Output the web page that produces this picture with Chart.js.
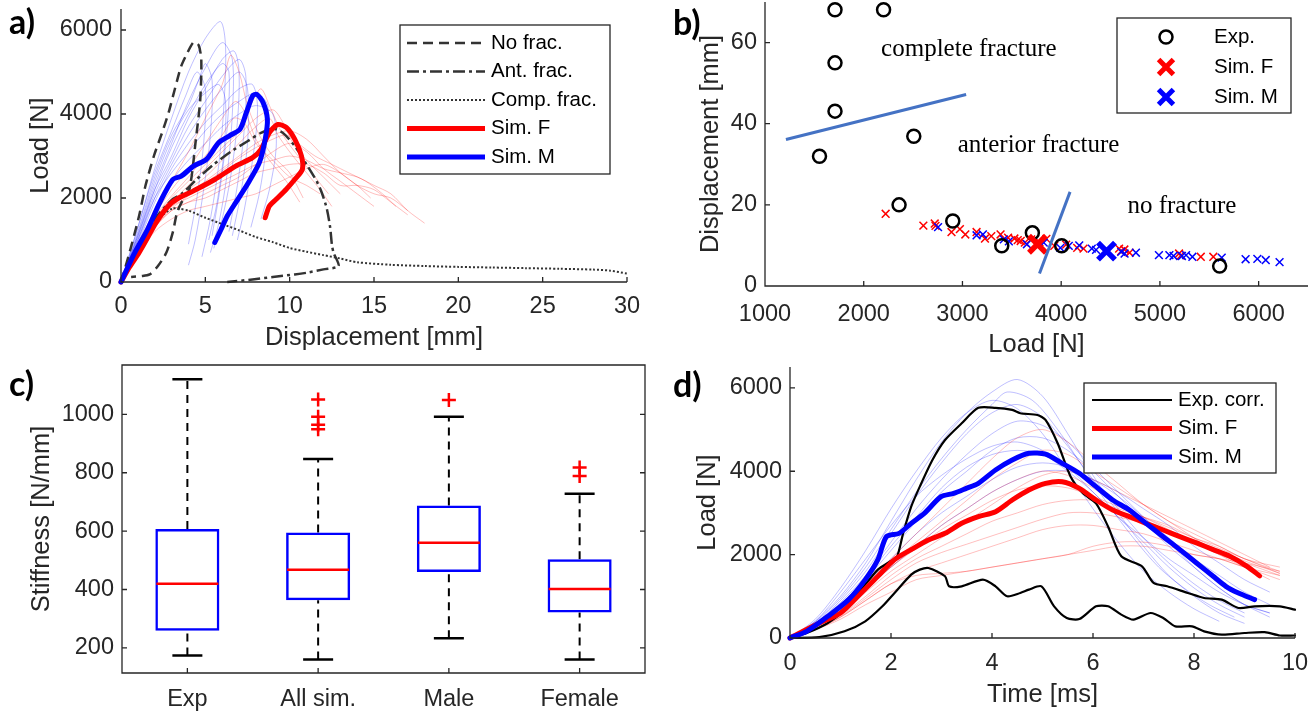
<!DOCTYPE html>
<html>
<head>
<meta charset="utf-8">
<script src="https://cdn.jsdelivr.net/npm/chart.js@4/dist/chart.umd.min.js"></script>
<style>
  body { margin: 0; background: #fff; }
  #fig { position: relative; width: 1316px; height: 712px; overflow: hidden; background: #fff; }
  #fig canvas { position: absolute; }
  .tag { position: absolute; font: bold 34px Lato, 'Open Sans', sans-serif; color: #000; line-height: 34px; }
</style>
</head>
<body>
<div id="fig">
  <canvas id="pa" width="658" height="356" style="left:0;top:0"></canvas>
  <canvas id="pb" width="658" height="362" style="left:658px;top:0"></canvas>
  <canvas id="pc" width="658" height="356" style="left:0;top:356px"></canvas>
  <canvas id="pd" width="658" height="356" style="left:658px;top:356px"></canvas>
  <div class="tag" style="left:9px;top:4px">a)</div>
  <div class="tag" style="left:673px;top:5px">b)</div>
  <div class="tag" style="left:9px;top:366px">c)</div>
  <div class="tag" style="left:673px;top:367px">d)</div>
</div>
<script>
// ---- a) load vs displacement ----
const noFracDisp = [0, 0.45, 1.07, 1.45, 1.95, 2.44, 2.82, 3.19, 3.57, 3.94, 4.31, 4.6, 4.76, 4.7, 4.44, 4.06, 3.6, 3.32, 3.07, 2.69, 2.19, 1.7, 1.2, 0.6];
const noFracLoad = [0, 620, 1570, 2290, 3000, 3560, 4030, 4590, 5140, 5460, 5710, 5640, 5300, 4350, 3400, 2210, 1900, 1650, 1180, 700, 380, 180, 140, 120];
const antFracDisp = [0, 1, 2, 3, 3.6, 4.5, 5.5, 6.5, 7.5, 8.3, 9.05, 9.6, 10.3, 11.0, 11.6, 11.9, 12.2, 12.4, 12.5, 12.6, 12.9, 12.0, 11.0, 10.3, 9.0, 7.8, 6.3];
const antFracLoad = [0, 850, 1500, 1950, 2100, 2450, 2800, 3100, 3350, 3550, 3650, 3550, 3240, 2800, 2400, 2130, 1750, 1300, 900, 700, 380, 300, 220, 180, 120, 60, 0];
const compFracDisp = [0, 0.5, 1, 1.5, 2, 2.5, 3.05, 3.5, 4, 5, 6, 7, 8, 9, 10, 11, 12, 13, 14, 16, 18, 20, 22, 24, 26, 28, 29, 30];
const compFracLoad = [0, 400, 750, 1050, 1350, 1600, 1750, 1740, 1700, 1530, 1380, 1230, 1070, 950, 810, 720, 640, 560, 470, 410, 380, 360, 345, 330, 315, 295, 270, 200];
const simFDispA = [0, 0.5, 1.07, 1.5, 2.07, 2.8, 3.3, 4.3, 5.56, 6.8, 7.8, 8.3, 8.8, 9.3, 9.8, 10.3, 10.7, 10.75, 10.3, 9.8, 9.2, 8.8, 8.55];
const simFLoadA = [0, 350, 700, 1000, 1410, 1810, 1970, 2170, 2440, 2760, 2960, 3160, 3560, 3750, 3680, 3400, 3000, 2680, 2440, 2210, 1970, 1810, 1530];
const simMDispA = [0, 0.4, 0.82, 1.57, 2.3, 3.07, 3.57, 4.3, 5.06, 5.8, 6.43, 7.06, 7.43, 7.8, 8.05, 8.43, 8.68, 8.55, 8.2, 7.56, 6.8, 6.3, 5.93, 5.56];
const simMLoadA = [0, 350, 700, 1250, 1890, 2440, 2520, 2760, 2920, 3320, 3480, 3640, 4030, 4430, 4470, 4270, 3870, 3400, 2840, 2370, 1890, 1570, 1250, 940];
// individual male / female runs, [displacement, load]
const maleRunsA = [
  [[0,0],[1,1300],[2,2700],[3,3900],[4,5000],[5,5800],[5.9,6200],[6.2,5600],[6.1,4200],[5.8,2800],[5.3,1500],[4.8,600]],
  [[0,0],[1,1100],[2,2300],[3,3300],[4,4300],[5,5100],[6,5700],[6.6,5300],[6.6,4000],[6.3,2600],[5.8,1400],[5.3,700]],
  [[0,0],[1,1000],[2,2100],[3,2900],[4,3700],[5,4300],[6,4900],[7,5300],[7.4,4900],[7.3,3600],[6.9,2300],[6.4,1200]],
  [[0,0],[1,900],[2,1900],[3,2700],[4,3300],[5,3800],[6,4200],[7,4600],[7.8,4700],[8.1,4100],[7.8,2900],[7.3,1700],[6.9,1000]],
  [[0,0],[1,1200],[2,2500],[3,3500],[4,4200],[4.6,4800],[5,5200],[5.4,4800],[5.3,3500],[4.9,2200],[4.4,1000],[4.0,400]],
  [[0,0],[1,1000],[2,2000],[3,2600],[4,3100],[5,3600],[6,4000],[7,4300],[8,4500],[8.7,4200],[8.6,3200],[8.2,2100],[7.7,1300]],
  [[0,0],[1,1100],[2,2200],[3,3000],[4,3900],[5,4600],[6,5300],[6.7,5500],[7,5000],[6.9,3800],[6.5,2500],[6,1500],[5.5,800]],
  [[0,0],[1,800],[2,1700],[3,2400],[4,2900],[5,3300],[6,3700],[7,4000],[8,4200],[9,4000],[9.2,3200],[8.8,2200],[8.3,1500]],
  [[0,0],[1,1300],[2,2600],[3,3600],[3.8,4400],[4.5,5000],[5,4600],[4.9,3300],[4.5,2000],[4.0,900]],
  [[0,0],[1,950],[2,2000],[3,2800],[4,3500],[5,4100],[6,4600],[7,5000],[7.5,4600],[7.5,3300],[7.1,2100],[6.6,1100]],
  [[0,0],[1,1150],[2,2400],[3,3400],[4,4100],[5,4500],[5.8,4700],[6.2,4300],[6.1,3100],[5.7,1900],[5.2,1000]],
  [[0,0],[1,1050],[2,2200],[3,3200],[4,4000],[5,4700],[6,5200],[6.4,5000],[6.3,3700],[5.9,2300],[5.4,1100]]
];
const femaleRunsA = [
  [[0,0],[1,700],[2,1300],[3,1700],[4,1900],[5,2100],[6,2300],[7,2500],[8,2800],[9,3100],[10,3300],[11,3100],[12,2700],[13,2400],[14,2100],[15,1800]],
  [[0,0],[1,800],[2,1500],[3,1900],[4,2300],[5,2700],[6,3100],[7,3500],[8,3900],[9,4100],[9.6,3800],[10.2,3300],[11,2900],[12,2500],[13,2100]],
  [[0,0],[1,750],[2,1400],[3,1800],[4,2000],[5,2200],[6,2400],[7,2600],[8,2800],[9,2900],[10,3000],[11,2900],[12,2700],[13,2600],[14,2500],[15,2300],[16,2100],[17,1700],[18,1400]],
  [[0,0],[1,900],[2,1700],[3,2400],[4,3100],[5,3900],[6,4700],[6.5,5400],[7,5000],[7.5,4200],[8.2,3500],[9,3000],[10,2600],[10.8,2000]],
  [[0,0],[1,700],[2,1200],[3,1500],[4,1700],[5,1800],[6,1900],[7,2000],[8,2100],[9,2300],[10,2500],[11,2700],[12,2800],[13,2600],[14,2300],[15,2100],[16,2000],[17,1700]],
  [[0,0],[1,800],[2,1500],[3,2000],[4,2400],[5,2800],[6,3200],[7,3600],[7.8,4300],[8.3,4600],[8.8,4200],[9.6,3500],[10.5,3000],[11.5,2500],[12.3,2100]],
  [[0,0],[1,750],[2,1400],[3,1800],[4,2100],[5,2400],[6,2700],[7,3000],[8,3300],[9,3500],[10,3600],[11,3400],[12,3000],[13,2600],[14,2300],[14.8,2000]],
  [[0,0],[1,850],[2,1600],[3,2200],[4,2700],[5,3300],[6,3900],[6.8,4300],[7.4,4000],[8,3400],[8.8,2900],[9.8,2400],[10.6,1900]],
  [[0,0],[1,700],[2,1300],[3,1700],[4,1900],[5,2000],[6,2200],[7,2400],[8,2600],[9,2700],[10,2800],[11,2800],[12,2600],[13,2300],[14,2300],[15,2200],[16,1900],[17,1600]],
  [[0,0],[1,800],[2,1450],[3,1850],[4,2200],[5,2500],[6,2900],[7,3300],[8,3700],[8.8,3900],[9.3,3500],[10,3100],[11,2600],[11.8,2200],[12.5,1800]],
  [[0,0],[1,750],[2,1350],[3,1750],[4,2050],[5,2350],[6,2650],[7,2950],[8,3200],[9,3400],[9.8,3500],[10.5,3300],[11.5,3000],[12.5,2800],[13.5,2600],[14.5,2400],[15.5,2100],[16.3,1800]],
  [[0,0],[1,850],[2,1550],[3,2050],[4,2500],[5,3000],[6,3500],[6.7,3900],[7.3,3800],[8,3300],[9,2900],[10,2500],[11,2300],[11.8,2100]]
];

// ---- b) displacement vs load at peak ----
const expLoad = [1709, 2201, 1709, 1709, 1552, 2507, 2358, 2902, 3398, 3708, 4005, 5605];
const expDisp = [68.1, 68.1, 55.0, 43.1, 32.0, 36.9, 20.0, 16.0, 9.9, 13.1, 9.9, 4.9];
const simFLoadB = [2222, 2604, 2719, 2727, 2889, 2974, 3029, 3143, 3228, 3292, 3386, 3462, 3526, 3590, 3632, 3696, 3930, 4162, 4226, 4587, 4608, 4693, 5194, 5414, 5541, 3560, 3780, 3850, 4050, 5210, 4640];
const simFDispB = [17.8, 14.9, 15.4, 14.8, 13.3, 14.0, 12.7, 13.3, 11.7, 12.3, 12.7, 11.9, 11.7, 11.1, 10.7, 11.5, 9.9, 9.4, 9.2, 9.2, 8.6, 8.2, 8.0, 7.2, 7.2, 11.3, 10.8, 11.6, 10.2, 7.5, 9.0];
const simMLoadB = [2753, 3143, 3207, 3419, 3470, 3653, 3823, 3992, 4077, 4183, 4310, 4353, 4608, 4642, 4757, 4990, 5096, 5138, 5223, 5265, 5329, 5626, 5868, 5987, 6072, 6212];
const simMDispB = [14.5, 12.5, 12.7, 11.5, 11.0, 10.3, 10.7, 9.4, 9.9, 10.0, 9.2, 8.9, 8.4, 8.0, 8.2, 7.6, 7.6, 7.4, 7.4, 7.6, 7.2, 7.0, 6.6, 6.7, 6.4, 5.9];
const meanLoad = [3760, 4459];   // F, M
const meanDisp = [10.3, 8.6];
const borderLoad = [[1212, 3037], [3780, 4090]];
const borderDisp = [[36.1, 47.2], [3.1, 23.2]];
const zoneText = ['complete fracture', 'anterior fracture', 'no fracture'];
const zoneLoad = [2176, 2952, 4671];
const zoneDisp = [58.3, 34.7, 19.5];

// ---- c) stiffness box plots ----
const groups = ['Exp', 'All sim.', 'Male', 'Female'];
const stiffLo = [174, 160, 233, 160];
const stiffQ1 = [259, 363, 460, 321];
const stiffMed = [420, 468, 560, 402];
const stiffQ3 = [607, 595, 688, 504];
const stiffHi = [1120, 847, 992, 728];
const outlierGroup = ['All sim.', 'All sim.', 'All sim.', 'All sim.', 'Male', 'Female', 'Female'];
const outlierStiff = [1051, 992, 964, 949, 1049, 818, 789];

// ---- d) load vs time ----
const expHiTime = [0, 0.33, 0.75, 1.08, 1.41, 1.74, 1.99, 2.12, 2.24, 2.4, 2.57, 2.82, 3.07, 3.4, 3.73, 4.07, 4.4, 4.56, 4.9, 5.06, 5.3, 5.56, 5.8, 6.06, 6.3, 6.56, 6.97, 7.2, 7.47, 7.88, 8.2, 8.55, 8.88, 9.2, 9.7, 10];
const expHiLoad = [0, 120, 360, 680, 1160, 1640, 1840, 1950, 2510, 3150, 3630, 4270, 4750, 5150, 5520, 5520, 5470, 5390, 5350, 5230, 4670, 3860, 3470, 3230, 2670, 1960, 1720, 1320, 1240, 1080, 960, 920, 720, 760, 760, 680];
const expLoTime = [0, 0.58, 1.08, 1.49, 1.83, 2.07, 2.4, 2.57, 2.74, 3.07, 3.15, 3.4, 3.82, 4.07, 4.3, 4.56, 4.73, 4.98, 5.23, 5.48, 5.73, 6.06, 6.3, 6.56, 6.8, 7.14, 7.39, 7.63, 7.96, 8.2, 8.55, 9.0, 9.4, 9.7, 10];
const expLoLoad = [0, 20, 160, 400, 760, 1080, 1520, 1640, 1680, 1480, 1240, 1240, 1400, 1240, 1000, 1080, 1160, 1240, 760, 480, 455, 760, 760, 560, 440, 600, 480, 280, 280, 160, 80, 120, 140, 60, 60];
const simFTime = [0, 0.58, 1.0, 1.41, 1.74, 2.07, 2.4, 2.74, 3.07, 3.4, 3.73, 4.07, 4.4, 4.73, 5.06, 5.39, 5.73, 6.06, 6.39, 6.72, 7.05, 7.39, 7.72, 8.05, 8.38, 8.71, 9.05, 9.3];
const simFLoadD = [0, 360, 600, 1080, 1480, 1880, 2120, 2350, 2510, 2750, 2910, 3030, 3310, 3550, 3710, 3750, 3590, 3310, 3070, 2910, 2750, 2590, 2430, 2280, 2120, 1960, 1720, 1490];
const simMTime = [0, 0.33, 0.75, 1.16, 1.49, 1.74, 1.91, 2.16, 2.4, 2.66, 2.99, 3.24, 3.49, 3.73, 4.07, 4.4, 4.73, 5.06, 5.39, 5.73, 6.06, 6.39, 6.72, 7.05, 7.39, 7.72, 8.05, 8.38, 8.63, 8.88, 9.2];
const simMLoadD = [0, 160, 520, 920, 1400, 1880, 2430, 2510, 2750, 2990, 3390, 3470, 3590, 3710, 4030, 4270, 4430, 4410, 4190, 3950, 3630, 3310, 3070, 2750, 2430, 2120, 1800, 1480, 1240, 1080, 920];
// individual runs, [time, load]
const maleRunsD = [
  [[0,0],[0.5,400],[1,1000],[1.5,1800],[2,2800],[2.5,3800],[3,4700],[3.5,5400],[4,5900],[4.5,6200],[5,5800],[5.5,4900],[6,3900],[6.5,3000],[7,2200],[7.5,1500],[8,1000],[8.5,600],[9,350]],
  [[0,0],[0.5,350],[1,900],[1.5,1600],[2,2500],[2.5,3400],[3,4200],[3.5,4900],[4,5400],[4.5,5600],[5,5300],[5.5,4600],[6,3800],[6.5,3100],[7,2400],[7.5,1800],[8,1300],[8.5,900],[9,600]],
  [[0,0],[0.5,300],[1,800],[1.5,1400],[2,2100],[2.5,2800],[3,3500],[3.5,4000],[4,4500],[4.5,4800],[5,4800],[5.5,4500],[6,4000],[6.5,3400],[7,2800],[7.5,2200],[8,1700],[8.5,1200],[9,800],[9.5,500]],
  [[0,0],[0.5,400],[1,1100],[1.5,1900],[2,2700],[2.5,3400],[3,3900],[3.5,4300],[4,4600],[4.5,4700],[5,4500],[5.5,4100],[6,3500],[6.5,2900],[7,2300],[7.5,1700],[8,1200],[8.5,800],[9,500]],
  [[0,0],[0.5,300],[1,700],[1.5,1300],[2,1900],[2.5,2500],[3,3000],[3.5,3400],[4,3800],[4.5,4100],[5,4200],[5.5,4100],[6,3800],[6.5,3400],[7,2900],[7.5,2400],[8,1900],[8.5,1500],[9,1100],[9.5,800]],
  [[0,0],[0.5,450],[1,1200],[1.5,2100],[2,3100],[2.5,4000],[3,4800],[3.5,5400],[4,5700],[4.5,5500],[5,4900],[5.5,4000],[6,3100],[6.5,2300],[7,1600],[7.5,1100],[8,700],[8.5,400]],
  [[0,0],[0.5,350],[1,850],[1.5,1500],[2,2300],[2.5,3100],[3,3800],[3.5,4400],[4,4900],[4.5,5200],[5,5100],[5.5,4700],[6,4100],[6.5,3500],[7,2900],[7.5,2300],[8,1700],[8.5,1200],[9,800],[9.5,600]],
  [[0,0],[0.5,250],[1,650],[1.5,1200],[2,1700],[2.5,2200],[3,2700],[3.5,3100],[4,3500],[4.5,3800],[5,4000],[5.5,4000],[6,3800],[6.5,3500],[7,3100],[7.5,2700],[8,2200],[8.5,1800],[9,1400],[9.5,1100]],
  [[0,0],[0.5,380],[1,950],[1.5,1700],[2,2600],[2.5,3500],[3,4300],[3.5,5000],[4,5600],[4.3,5900],[4.8,5700],[5.3,5000],[5.8,4100],[6.3,3200],[6.8,2400],[7.3,1700],[7.8,1200],[8.3,800],[8.8,500]],
  [[0,0],[0.5,330],[1,800],[1.5,1450],[2,2200],[2.5,2900],[3,3600],[3.5,4100],[4,4400],[4.5,4500],[5,4400],[5.5,4000],[6,3500],[6.5,2900],[7,2400],[7.5,1900],[8,1500],[8.5,1100],[9,800],[9.5,600]]
];
const femaleRunsD = [
  [[0,0],[0.5,250],[1,600],[1.5,1100],[2,1600],[2.5,2000],[3,2400],[3.5,2800],[4,3200],[4.5,3600],[5,3900],[5.5,4000],[6,3800],[6.5,3500],[7,3200],[7.5,2900],[8,2600],[8.5,2300],[9,2000],[9.5,1700]],
  [[0,0],[0.5,300],[1,700],[1.5,1300],[2,1900],[2.5,2500],[3,3100],[3.5,3700],[4,4300],[4.5,4800],[5,5000],[5.5,4700],[6,4200],[6.5,3700],[7,3200],[7.5,2800],[8,2400],[8.5,2000],[9,1700],[9.5,1400]],
  [[0,0],[0.5,200],[1,500],[1.5,900],[2,1300],[2.5,1600],[3,1800],[3.5,2000],[4,2200],[4.5,2400],[5,2600],[5.5,2700],[6,2700],[6.5,2600],[7,2500],[7.5,2300],[8,2100],[8.5,1900],[9,1700],[9.7,1400]],
  [[0,0],[0.5,250],[1,650],[1.5,1200],[2,1700],[2.5,2200],[3,2700],[3.5,3100],[4,3500],[4.5,3800],[5,4000],[5.5,3900],[6,3600],[6.5,3200],[7,2900],[7.5,2600],[8,2300],[8.5,2000],[9,1800],[9.7,1500]],
  [[0,0],[0.5,200],[1,450],[1.5,800],[2,1100],[2.5,1400],[3,1500],[3.5,1600],[4,1700],[4.5,1800],[5,1900],[5.5,2000],[6,2100],[6.5,2200],[7,2200],[7.5,2100],[8,2000],[8.5,1900],[9,1800],[9.7,1600]],
  [[0,0],[0.5,300],[1,700],[1.5,1200],[2,1800],[2.5,2300],[3,2800],[3.5,3300],[4,3800],[4.5,4200],[5,4500],[5.5,4400],[6,4000],[6.5,3600],[7,3200],[7.5,2800],[8,2500],[8.5,2200],[9,1900],[9.7,1600]],
  [[0,0],[0.5,250],[1,550],[1.5,1000],[2,1500],[2.5,1900],[3,2200],[3.5,2500],[4,2800],[4.5,3000],[5,3200],[5.5,3300],[6,3300],[6.5,3100],[7,2900],[7.5,2700],[8,2400],[8.5,2200],[9,1900],[9.7,1700]],
  [[0,0],[0.5,200],[1,500],[1.5,900],[2,1300],[2.5,1500],[3,1550],[3.5,1600],[4,1700],[4.5,1800],[5,1900],[5.5,2000],[6,2200],[6.5,2300],[7,2300],[7.5,2200],[8,2000],[8.5,1900],[9,1700],[9.7,1500]],
  [[0,0],[0.5,280],[1,650],[1.5,1150],[2,1700],[2.5,2150],[3,2600],[3.5,2950],[4,3300],[4.5,3550],[5,3650],[5.5,3600],[6,3400],[6.5,3150],[7,2900],[7.5,2650],[8,2400],[8.5,2150],[9,1900],[9.7,1550]],
  [[0,0],[0.5,220],[1,520],[1.5,950],[2,1400],[2.5,1800],[3,2050],[3.5,2250],[4,2450],[4.5,2650],[5,2850],[5.5,3000],[6,3000],[6.5,2900],[7,2750],[7.5,2550],[8,2350],[8.5,2100],[9,1850],[9.7,1550]]
];

// ---- styling ----
const SANS = "'Liberation Sans', Arial, sans-serif";
const ink = '#262626';
const RED = '#ff0000', BLUE = '#0000ff', GREY = '#333333';
const RED_T = 'rgba(255,0,0,0.32)', BLUE_T = 'rgba(0,0,255,0.32)';
const tickFont = {family: SANS, size: 23.5};
const titleFont = {family: SANS, size: 25.5, lineHeight: 1};
const legendFont = '20.5px ' + SANS;
const zoneFont = "25px 'Liberation Serif', 'Times New Roman', serif";

const pts = (xs, ys) => xs.map((x, i) => ({x, y: ys[i]}));
const runPts = run => run.map(([x, y]) => ({x, y}));

function curve(label, data, color, width, dash, order) {
  return {
    type: 'line', label, data, order, clip: false,
    borderColor: color, borderWidth: width, borderDash: dash || [],
    borderJoinStyle: 'round', borderCapStyle: dash ? 'butt' : 'round',
    pointRadius: 0, tension: 0.25, fill: false
  };
}
function thin(run, color) {
  return {type: 'line', data: runPts(run), borderColor: color, borderWidth: 0.8, pointRadius: 0, tension: 0.3, fill: false, order: 9};
}

// axes with fixed pixel sizes so the plot box lands where it should
function frame(o) {
  const xTicks = {font: tickFont, color: ink, padding: o.xPad, maxRotation: 0, autoSkip: false};
  const x = {
    type: o.xType || 'linear',
    grid: {display: false, drawTicks: false},
    border: {display: false},
    ticks: xTicks,
    title: {display: !!o.xTitle, text: o.xTitle || '', font: titleFont, color: ink, padding: {top: 0, bottom: o.xTitlePad || 0}},
    afterFit: s => { s.height = o.xH; s.paddingLeft = 0; s.paddingRight = 0; }
  };
  if (x.type === 'linear') {
    x.min = o.xMin; x.max = o.xMax;
    xTicks.callback = v => String(v);
    x.afterBuildTicks = s => { s.ticks = o.xTicks.map(v => ({value: v})); };
  } else {
    x.offset = true;
  }
  const y = {
    type: 'linear', min: o.yMin, max: o.yMax,
    grid: {display: false, drawTicks: false},
    border: {display: false},
    ticks: {font: tickFont, color: ink, padding: o.yPad, autoSkip: false, callback: v => String(v)},
    title: {display: true, text: o.yTitle, font: titleFont, color: ink, padding: {top: o.yTitlePad, bottom: 0}},
    afterBuildTicks: s => { s.ticks = o.yTicks.map(v => ({value: v})); },
    afterFit: s => { s.width = o.yW; s.paddingTop = 0; s.paddingBottom = 0; }
  };
  return {x, y};
}

function baseOptions(scales, padding, extra) {
  return {
    responsive: false, animation: false, devicePixelRatio: 1, events: [],
    layout: {padding, autoPadding: false},
    scales,
    plugins: Object.assign({legend: {display: false}, tooltip: {enabled: false}}, extra)
  };
}

// axis lines with inward tick marks
const matlabAxes = {
  id: 'matlabAxes',
  afterDatasetsDraw(chart, args, opts) {
    const {ctx, chartArea: a, scales: {x, y}} = chart;
    const len = 5;
    ctx.save();
    ctx.strokeStyle = ink;
    ctx.lineWidth = 1.3;
    ctx.beginPath();
    ctx.moveTo(a.left, a.top);
    ctx.lineTo(a.left, a.bottom);
    ctx.lineTo(a.right, a.bottom);
    if (opts.box) { ctx.lineTo(a.right, a.top); ctx.closePath(); }
    x.ticks.forEach((t, i) => {
      const p = x.getPixelForTick(i);
      ctx.moveTo(p, a.bottom); ctx.lineTo(p, a.bottom - len);
    });
    y.ticks.forEach((t, i) => {
      const p = y.getPixelForTick(i);
      ctx.moveTo(a.left, p); ctx.lineTo(a.left + len, p);
      if (opts.box) { ctx.moveTo(a.right, p); ctx.lineTo(a.right - len, p); }
    });
    ctx.stroke();
    ctx.restore();
  }
};

function drawMarker(ctx, d, cx, cy) {
  const r = d.legendRadius || d.pointRadius;
  ctx.strokeStyle = d.pointBorderColor;
  ctx.lineWidth = d.legendWidth || d.pointBorderWidth;
  ctx.beginPath();
  if (d.pointStyle === 'circle') {
    ctx.arc(cx, cy, r, 0, Math.PI * 2);
  } else {
    const k = r * Math.SQRT1_2;
    ctx.moveTo(cx - k, cy - k); ctx.lineTo(cx + k, cy + k);
    ctx.moveTo(cx - k, cy + k); ctx.lineTo(cx + k, cy - k);
  }
  ctx.stroke();
}

// boxed legend placed inside the axes
const boxLegend = {
  id: 'boxLegend',
  afterDraw(chart, args, o) {
    if (!o.width) return;
    const {ctx} = chart;
    const items = chart.data.datasets.filter(d => d.label);
    ctx.save();
    ctx.fillStyle = '#fff';
    ctx.fillRect(o.left, o.top, o.width, o.height);
    ctx.strokeStyle = ink;
    ctx.lineWidth = 1.3;
    ctx.strokeRect(o.left, o.top, o.width, o.height);
    ctx.font = legendFont;
    ctx.textBaseline = 'middle';
    ctx.textAlign = 'left';
    items.forEach((d, i) => {
      const cy = o.top + o.first + i * o.step;
      ctx.save();
      if (o.markers) {
        drawMarker(ctx, d, o.sampleX, cy);
      } else {
        ctx.strokeStyle = d.borderColor;
        ctx.lineWidth = d.borderWidth;
        ctx.setLineDash(d.borderDash || []);
        ctx.beginPath();
        ctx.moveTo(o.sampleX, cy);
        ctx.lineTo(o.sampleX + o.sampleW, cy);
        ctx.stroke();
      }
      ctx.restore();
      ctx.fillStyle = '#000';
      ctx.fillText(d.label, o.textX, cy);
    });
    ctx.restore();
  }
};

// region names in data coordinates
const zoneNotes = {
  id: 'zoneNotes',
  afterDatasetsDraw(chart) {
    const {ctx, scales: {x, y}} = chart;
    ctx.save();
    ctx.font = zoneFont;
    ctx.fillStyle = '#000';
    ctx.textBaseline = 'middle';
    ctx.textAlign = 'left';
    zoneText.forEach((t, i) => ctx.fillText(t, x.getPixelForValue(zoneLoad[i]), y.getPixelForValue(zoneDisp[i])));
    ctx.restore();
  }
};

// a)
new Chart(document.getElementById('pa'), {
  type: 'line',
  data: {datasets: [
    curve('No frac.', pts(noFracDisp, noFracLoad), GREY, 2.5, [10, 6], 3),
    curve('Ant. frac.', pts(antFracDisp, antFracLoad), GREY, 2.5, [12, 4, 3, 4], 3),
    curve('Comp. frac.', pts(compFracDisp, compFracLoad), GREY, 2, [2, 2], 3),
    curve('Sim. F', pts(simFDispA, simFLoadA), RED, 5, null, 1),
    curve('Sim. M', pts(simMDispA, simMLoadA), BLUE, 5, null, 0),
    ...femaleRunsA.map(r => thin(r, RED_T)),
    ...maleRunsA.map(r => thin(r, BLUE_T))
  ]},
  options: baseOptions(
    frame({xMin: 0, xMax: 30, xTicks: [0, 5, 10, 15, 20, 25, 30], xPad: 10.5, xH: 74, xTitle: 'Displacement [mm]', xTitlePad: 5.5,
           yMin: 0, yMax: 6500, yTicks: [0, 2000, 4000, 6000], yPad: 9, yW: 121, yTitle: 'Load [N]', yTitlePad: 28}),
    {left: 0, top: 9, right: 31, bottom: 0},
    {matlabAxes: {box: false},
     boxLegend: {left: 400, top: 25, width: 210, height: 149, first: 18, step: 28.5, sampleX: 407, sampleW: 78, textX: 491}}),
  plugins: [matlabAxes, boxLegend]
});

// b)
new Chart(document.getElementById('pb'), {
  type: 'scatter',
  data: {datasets: [
    {label: 'Exp.', data: pts(expLoad, expDisp), pointStyle: 'circle', pointRadius: 6.5, pointBorderWidth: 2.5,
     pointBorderColor: '#000', pointBackgroundColor: 'rgba(0,0,0,0)', order: 2, clip: false},
    {label: 'Sim. F', data: [{x: meanLoad[0], y: meanDisp[0]}], pointStyle: 'crossRot', pointRadius: 12, pointBorderWidth: 5.5,
     pointBorderColor: RED, legendRadius: 10.5, legendWidth: 5, order: 1},
    {label: 'Sim. M', data: [{x: meanLoad[1], y: meanDisp[1]}], pointStyle: 'crossRot', pointRadius: 12, pointBorderWidth: 5.5,
     pointBorderColor: BLUE, legendRadius: 10.5, legendWidth: 5, order: 1},
    {data: pts(simFLoadB, simFDispB), pointStyle: 'crossRot', pointRadius: 5.5, pointBorderWidth: 1.5, pointBorderColor: RED, order: 4},
    {data: pts(simMLoadB, simMDispB), pointStyle: 'crossRot', pointRadius: 5.5, pointBorderWidth: 1.5, pointBorderColor: BLUE, order: 3},
    ...borderLoad.map((xs, i) => ({type: 'line', data: pts(xs, borderDisp[i]), borderColor: '#4472c4', borderWidth: 3,
                                   pointRadius: 0, showLine: true, order: 0}))
  ]},
  options: baseOptions(
    frame({xMin: 1000, xMax: 6500, xTicks: [1000, 2000, 3000, 4000, 5000, 6000], xPad: 14.5, xH: 76, xTitle: 'Load [N]', xTitlePad: 4,
           yMin: 0, yMax: 70, yTicks: [0, 20, 40, 60], yPad: 8, yW: 107, yTitle: 'Displacement [mm]', yTitlePad: 40}),
    {left: 0, top: 2, right: 8, bottom: 0},
    {matlabAxes: {box: false},
     boxLegend: {left: 459, top: 18, width: 174, height: 95, first: 19, step: 30, markers: true, sampleX: 508, textX: 556}}),
  plugins: [matlabAxes, zoneNotes, boxLegend]
});

// c)
const whiskerPts = [], capPts = [];
groups.forEach((g, i) => {
  whiskerPts.push({x: g, y: stiffQ3[i]}, {x: g, y: stiffHi[i]}, {x: g, y: null},
                  {x: g, y: stiffLo[i]}, {x: g, y: stiffQ1[i]}, {x: g, y: null});
  capPts.push({x: g, y: stiffLo[i]}, {x: g, y: stiffHi[i]});
});
new Chart(document.getElementById('pc'), {
  type: 'bar',
  data: {labels: groups, datasets: [
    {type: 'bar', data: groups.map((g, i) => [stiffQ1[i], stiffQ3[i]]), backgroundColor: 'rgba(0,0,0,0)',
     borderColor: BLUE, borderWidth: 2.5, borderSkipped: false, barPercentage: 0.49, categoryPercentage: 1, order: 2},
    {type: 'line', data: whiskerPts, borderColor: '#000', borderWidth: 2, borderDash: [8, 6], pointRadius: 0, spanGaps: false, order: 3},
    {type: 'line', data: capPts, showLine: false, pointStyle: 'line', pointRadius: 15, pointBorderWidth: 2.5, pointBorderColor: '#000', order: 1},
    {type: 'line', data: pts(groups, stiffMed), showLine: false, pointStyle: 'line', pointRadius: 31, pointBorderWidth: 2.5, pointBorderColor: RED, order: 0},
    {type: 'line', data: pts(outlierGroup, outlierStiff), showLine: false, pointStyle: 'cross', pointRadius: 7, pointBorderWidth: 2.5, pointBorderColor: RED, order: 0}
  ]},
  options: baseOptions(
    frame({xType: 'category', xPad: 12, xH: 39,
           yMin: 114, yMax: 1169, yTicks: [200, 400, 600, 800, 1000], yPad: 8, yW: 122, yTitle: 'Stiffness [N/mm]', yTitlePad: 29}),
    {left: 0, top: 9, right: 13, bottom: 0},
    {matlabAxes: {box: true}}),
  plugins: [matlabAxes]
});

// d)
new Chart(document.getElementById('pd'), {
  type: 'line',
  data: {datasets: [
    curve('Exp. corr.', pts(expHiTime, expHiLoad), '#000', 2.2, null, 2),
    curve('', pts(expLoTime, expLoLoad), '#000', 2.2, null, 2),
    curve('Sim. F', pts(simFTime, simFLoadD), RED, 5, null, 1),
    curve('Sim. M', pts(simMTime, simMLoadD), BLUE, 5, null, 0),
    ...femaleRunsD.map(r => thin(r, RED_T)),
    ...maleRunsD.map(r => thin(r, BLUE_T))
  ]},
  options: baseOptions(
    frame({xMin: 0, xMax: 10, xTicks: [0, 2, 4, 6, 8, 10], xPad: 11, xH: 74, xTitle: 'Time [ms]', xTitlePad: 4,
           yMin: 0, yMax: 6500, yTicks: [0, 2000, 4000, 6000], yPad: 8, yW: 132, yTitle: 'Load [N]', yTitlePad: 37.5}),
    {left: 0, top: 11, right: 21, bottom: 0},
    {matlabAxes: {box: false},
     boxLegend: {left: 426, top: 27, width: 192, height: 90, first: 17, step: 28.5, sampleX: 434, sampleW: 80, textX: 520}}),
  plugins: [matlabAxes, boxLegend]
});
</script>
</body>
</html>
